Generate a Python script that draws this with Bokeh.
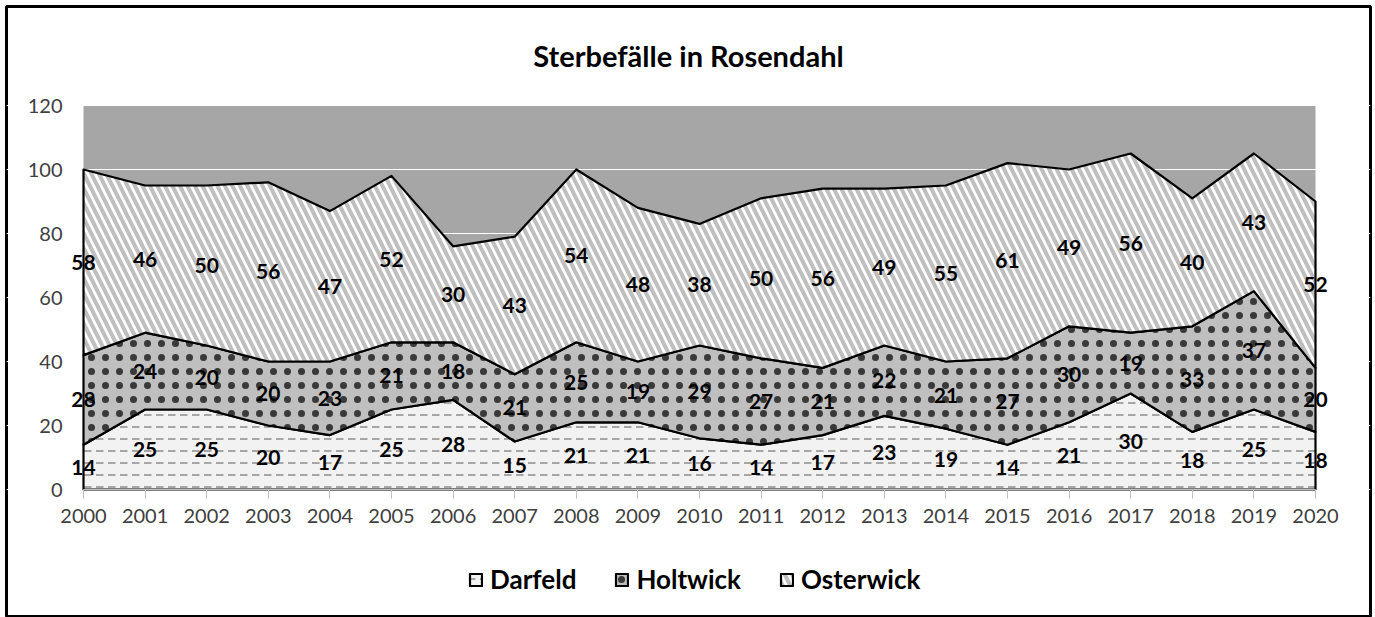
from bokeh.plotting import figure
from bokeh.models import (ColumnDataSource, Legend, LegendItem, LabelSet, Label,
                          BoxAnnotation, FixedTicker, Range1d)
from bokeh.core.properties import value
from bokeh.embed import file_html
from bokeh.resources import INLINE

years = list(range(2000, 2021))
darfeld = [14, 25, 25, 20, 17, 25, 28, 15, 21, 21, 16, 14, 17, 23, 19, 14, 21, 30, 18, 25, 18]
holtwick = [28, 24, 20, 20, 23, 21, 18, 21, 25, 19, 29, 27, 21, 22, 21, 27, 30, 19, 33, 37, 20]
osterwick = [58, 46, 50, 56, 47, 52, 30, 43, 54, 48, 38, 50, 56, 49, 55, 61, 49, 56, 40, 43, 52]
series_names = ["Darfeld", "Holtwick", "Osterwick"]
y_ticks = [0, 20, 40, 60, 80, 100, 120]
title_text = "Sterbefälle in Rosendahl"

FONT = "Lato"
W, H = 1375, 617
# frame (outer black border) and plot-area placement on the canvas (pixels)
FL, FR, FT, FB = 6, 1370, 6, 617
PL, PR, PT, PB = 83, 1315, 105, 489

x0, x1 = years[0], years[-1]
y0, y1 = y_ticks[0], y_ticks[-1]
ppx = (PR - PL) / (x1 - x0)
ppy = (PB - PT) / (y1 - y0)
xr = Range1d(x0 - (PL - FL) / ppx, x1 + (FR - PR) / ppx)
yr = Range1d(y0 - (FB - PB) / ppy, y1 + (PT - FT) / ppy)

p = figure(width=W, height=H, x_range=xr, y_range=yr,
           output_backend="svg", toolbar_location=None, title=None,
           min_border_left=FL, min_border_right=W - FR, min_border_top=FT,
           min_border_bottom=H - FB)
p.background_fill_color = "white"
p.border_fill_color = "white"
p.outline_line_color = "black"
p.outline_line_width = 3

# gray plot area
p.add_layout(BoxAnnotation(left=x0, right=x1, bottom=y0, top=y1,
                           fill_color="#a6a6a6", fill_alpha=1, line_color=None, level="image"))

# stacked polygons
bottoms = [[0] * len(years)]
tops = []
cum = [0] * len(years)
for vals in (darfeld, holtwick, osterwick):
    new = [c + v for c, v in zip(cum, vals)]
    tops.append(new)
    bottoms.append(new)
    cum = new

styles = [
    dict(fill_color="#f2f2f2", hatch_pattern="horizontal_dash", hatch_color="#a6a6a6",
         hatch_scale=12, hatch_weight=2),
    dict(fill_color="#bfbfbf", hatch_pattern="dot", hatch_color="#000000",
         hatch_scale=14, hatch_weight=0.5, hatch_alpha=0.7),
    dict(fill_color="#ffffff", hatch_pattern="left_diagonal_line", hatch_color="#bfbfbf",
         hatch_scale=15, hatch_weight=4),
]

renderers = []
for i, name in enumerate(series_names):
    xs = years + years[::-1]
    ys = tops[i] + bottoms[i][::-1]
    r = p.patch(xs, ys, line_color="black", line_width=2.2, line_join="round", **styles[i])
    renderers.append(r)

# labels at segment midpoints
lx, ly, lt = [], [], []
for i, vals in enumerate((darfeld, holtwick, osterwick)):
    for j, y in enumerate(years):
        lx.append(y)
        ly.append(bottoms[i][j] + vals[j] / 2)
        lt.append(str(vals[j]))
lsrc = ColumnDataSource(dict(x=lx, y=ly, t=lt))
labels = LabelSet(x="x", y="y", text="t", source=lsrc, text_align="center",
                  text_baseline="middle", text_font=value(FONT), text_font_size="21px",
                  text_font_style="bold", text_color="black")
p.add_layout(labels)

# title (baseline at y=55 px)
p.add_layout(Label(x=(xr.start + xr.end) / 2, y=y1 + (PT - 55) / ppy, text=title_text,
                   text_align="center", text_baseline="alphabetic", text_font=FONT,
                   text_font_size="29px", text_font_style="bold", text_color="black"))

# axes
p.xaxis.fixed_location = y0
p.xaxis.ticker = FixedTicker(ticks=years)
p.xaxis.bounds = (x0, x1)
p.xaxis.major_label_text_font = FONT
p.xaxis.major_label_text_font_size = "20px"
p.xaxis.major_label_text_color = "#404040"
p.xaxis.major_tick_out = 9
p.xaxis.major_tick_in = 0
p.xaxis.major_tick_line_color = "#bfbfbf"
p.xaxis.axis_line_color = "#bfbfbf"
p.xaxis.minor_tick_line_color = None
p.xaxis.major_label_standoff = 10

p.yaxis.fixed_location = x0
p.yaxis.ticker = FixedTicker(ticks=y_ticks)
p.yaxis.major_label_text_font = FONT
p.yaxis.major_label_text_font_size = "20px"
p.yaxis.major_label_text_color = "#404040"
p.yaxis.axis_line_color = None
p.yaxis.major_tick_line_color = None
p.yaxis.minor_tick_line_color = None
p.yaxis.major_tick_out = 0
p.yaxis.major_label_standoff = 21

p.xgrid.grid_line_color = None
p.ygrid.grid_line_color = "white"
p.ygrid.grid_line_width = 1
p.ygrid.ticker = FixedTicker(ticks=y_ticks)

legend = Legend(items=[LegendItem(label=n, renderers=[r]) for n, r in zip(series_names, renderers)],
                orientation="horizontal", location=(462, 22),
                label_text_font=FONT, label_text_font_size="26px", label_text_font_style="bold",
                label_text_color="black", glyph_width=15, glyph_height=15,
                label_standoff=7, spacing=38, padding=0, margin=0,
                border_line_color=None, background_fill_alpha=0)
p.add_layout(legend, "center")

open("out.html", "w").write(file_html(p, INLINE))
